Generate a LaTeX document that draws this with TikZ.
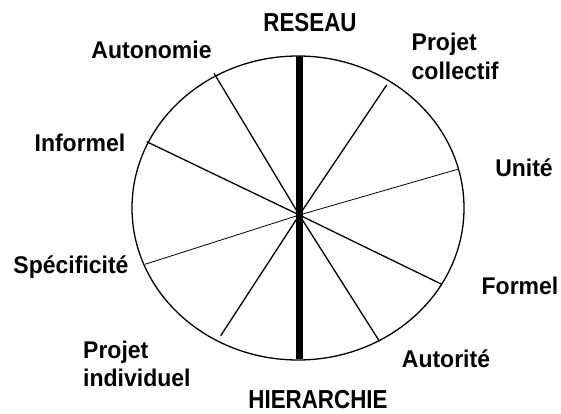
\documentclass[tikz,border=0pt]{standalone}
\usepackage{fontspec}
\setmainfont{Liberation Sans}
\newcommand{\bigtxt}[1]{\scalebox{0.86}[1]{#1}}
\newcommand{\lbtxt}[1]{\scalebox{1}[1.05]{#1}}
\begin{document}
\begin{tikzpicture}[x=1pt,y=-1pt,
  lbl/.style={font=\bfseries\fontsize{23}{28.5}\selectfont, inner sep=0pt, anchor=base},
  big/.style={font=\bfseries\fontsize{26}{30}\selectfont, inner sep=0pt, anchor=base},
  two/.style={lbl, align=left, anchor=north west},
  rim/.style={line width=1.3pt},
  ray/.style={line width=1.3pt},
  thinray/.style={line width=0.8pt},
  axisline/.style={line width=6.5pt}]
\useasboundingbox (0,0) rectangle (561,414);
\draw[rim] (298,208) ellipse [x radius=166pt, y radius=152pt];
\coordinate (c) at (299.3,215);
\coordinate (eAu) at (214,73.3);
\coordinate (eAr) at (379.3,341);
\coordinate (ePC) at (386.7,85);
\coordinate (ePI) at (220.7,335.7);
\coordinate (eI) at (146.7,141.7);
\coordinate (eF) at (441.7,284.3);
\coordinate (eU) at (457.7,169.3);
\coordinate (eS) at (145,264.3);
\coordinate (top) at (299.3,56.5);
\coordinate (bot) at (299.3,359);
\draw[ray] (eAu) -- (c) -- (eAr);
\draw[ray] (ePC) -- (c) -- (ePI);
\draw[ray] (eI) -- (c) -- (eF);
\draw[thinray] (eU) -- (c) -- (eS);
\draw[axisline] (top) -- (bot);
\node[big] (res) at (310,31.5) {\bigtxt{RESEAU}};
\node[big] (hie) at (318,408) {\bigtxt{HIERARCHIE}};
\node[lbl] (aut) at (151.5,58.5) {\lbtxt{Autonomie}};
\node[two] (pc) at (411.5,33) {\lbtxt{Projet}\\\lbtxt{collectif}};
\node[lbl] (inf) at (80,151) {\lbtxt{Informel}};
\node[lbl] (uni) at (524,176) {\lbtxt{Unité}};
\node[lbl] (spe) at (71,273) {\lbtxt{Spécificité}};
\node[lbl] (for) at (520,294) {\lbtxt{Formel}};
\node[two] (pi) at (83,340.5) {\lbtxt{Projet}\\\lbtxt{individuel}};
\node[lbl] (ato) at (446,367) {\lbtxt{Autorité}};
\end{tikzpicture}
\end{document}
